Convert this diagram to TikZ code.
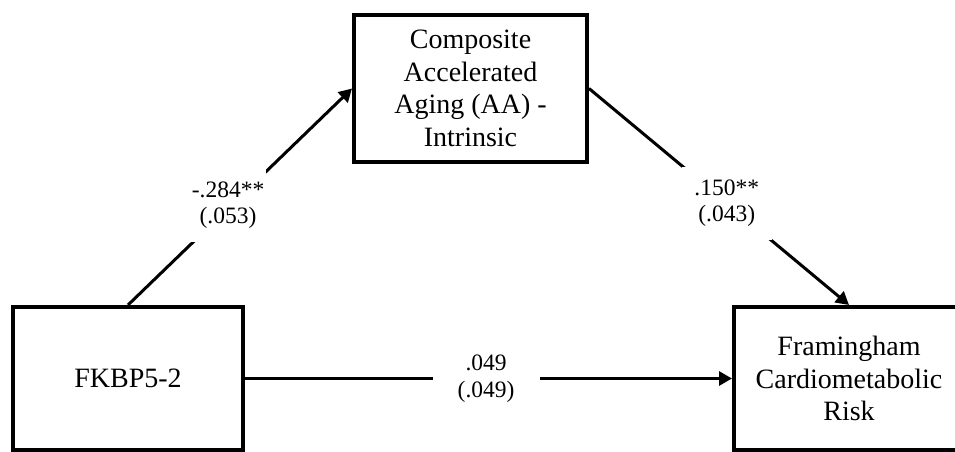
\documentclass[tikz,border=0pt]{standalone}
\usepackage{fontspec}
\setmainfont{Liberation Serif}
\usetikzlibrary{arrows.meta}
\begin{document}
\begin{tikzpicture}[x=1pt,y=-1pt,
  varbox/.style={draw=black, line width=4pt, fill=white, rectangle, inner sep=0pt,
    align=center, font=\fontsize{28}{32.5}\selectfont},
  pathline/.style={line width=3pt, -{Triangle[length=13pt,width=14pt]}},
  coef/.style={fill=white, inner sep=0pt, align=center, font=\fontsize{23.5}{26.5}\selectfont}]
\useasboundingbox (0,0) rectangle (955,452);
\clip (0,0) rectangle (955,452);
\fill[white] (0,0) rectangle (955,452);
\node[varbox, minimum width=230pt, minimum height=143pt] (lb) at (128,378.5) {FKBP5-2};
\node[varbox, minimum width=233pt, minimum height=147pt] (tb) at (470.5,88.5)
  {Composite\\Accelerated\\Aging (AA) -\\Intrinsic};
\node[varbox, minimum width=230pt, minimum height=143pt] (rb) at (849,378.5)
  {Framingham\\Cardiometabolic\\Risk};
\draw[pathline] (lb.north) -- node[coef, pos=0.46, minimum width=76pt, minimum height=74pt, xshift=-3pt] (c1) {-.284**\\(.053)} (tb.west);
\draw[pathline] (tb.east) -- node[coef, pos=0.53, minimum width=90pt, minimum height=73pt] (c2) {.150**\\(.043)} (rb.north);
\draw[pathline] (lb.east) -- node[coef, pos=0.495, minimum width=107pt, minimum height=60pt, xshift=0pt] (c3) {.049\\(.049)} (rb.west);
\end{tikzpicture}
\end{document}
